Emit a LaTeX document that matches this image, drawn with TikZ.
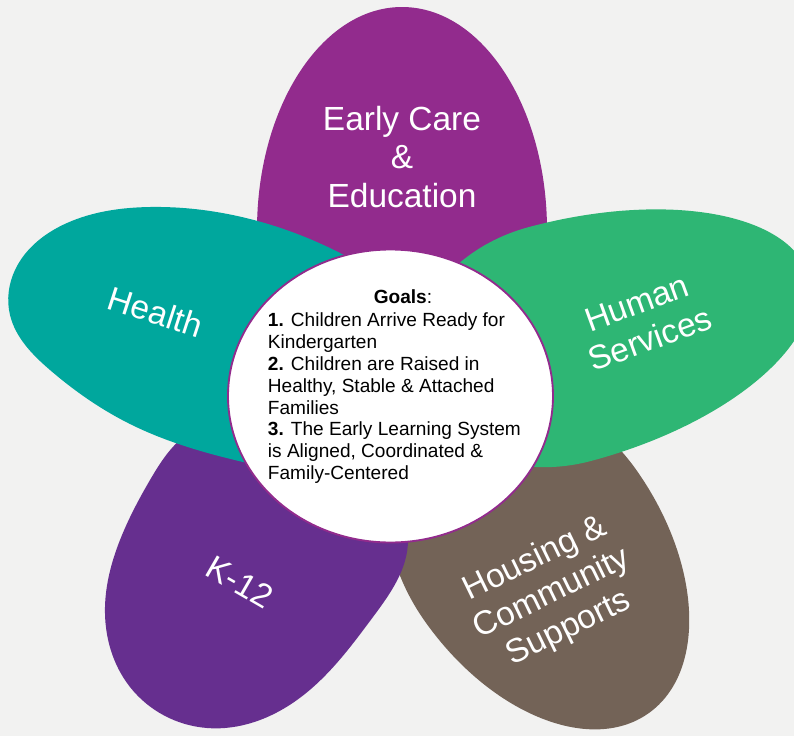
\documentclass[tikz,border=0pt]{standalone}
\usepackage{fontspec}
\setmainfont{Liberation Sans}
\usetikzlibrary{hobby}
\definecolor{bgc}{HTML}{F2F2F1}
\definecolor{ecec}{HTML}{922B8D}
\definecolor{healthc}{HTML}{00A79D}
\definecolor{humanc}{HTML}{2EB674}
\definecolor{kc}{HTML}{662F8F}
\definecolor{housec}{HTML}{736357}
\begin{document}
\begin{tikzpicture}[x=0.75pt,y=-0.75pt,
  lbl/.style={text=white, font=\fontsize{25.1}{28.9}\selectfont, align=center, inner sep=0pt},
  goaltext/.style={font=\fontsize{14.3}{16.4}\selectfont, inner sep=0pt}]
\fill[bgc] (0,0) rectangle (794,736);
\useasboundingbox (0,0) rectangle (794,736);
\clip (0,0) rectangle (794,736);
% Housing & Community Supports petal (egg shape)
\begin{scope}[shift={(530.6,545.6)}, rotate=-55]
\fill[housec] (0,-130) arc[start angle=-90, end angle=90, x radius=205, y radius=130]
  arc[start angle=90, end angle=270, x radius=170, y radius=130] -- cycle;
\end{scope}
% K-12 petal
\fill[kc] plot[closed hobby] coordinates {(190,432) (270,420) (370,468) (408,540) (373,617) (297,700) (207,728) (130,687) (105,607) (120,540) (150,480)};
% Early Care & Education petal
\fill[ecec] (402,230) ellipse [x radius=145, y radius=223];
% Health petal
\fill[healthc] plot[closed hobby] coordinates {(340,253) (250,219) (150,207) (67,223) (15,270) (10,315) (50,370) (130,424) (243,462) (330,468) (410,400) (400,300)};
% Human Services petal (egg shape)
\begin{scope}[shift={(560,344)}, rotate=15]
\fill[humanc] (0,-121) arc[start angle=-90, end angle=90, x radius=258, y radius=121]
  arc[start angle=90, end angle=270, x radius=150, y radius=121] -- cycle;
\end{scope}
% centre
\draw[ecec, line width=1.4pt, fill=white] (390.5,396) ellipse [x radius=162.5, y radius=146.5];
\node[goaltext, anchor=base] (goalsT) at (403,303) {\textbf{Goals}:};
\node[goaltext, anchor=north west, align=left] (goalsL) at (267.7,312.5) {\textbf{1.} Children Arrive Ready for\\Kindergarten\\\textbf{2.} Children are Raised in\\Healthy, Stable \& Attached\\Families\\\textbf{3.} The Early Learning System\\is Aligned, Coordinated \&\\Family-Centered};
% petal labels
\node[lbl] (ece) at (402,157) {Early Care\\\&\\Education};
\node[lbl, rotate=-18] (health) at (155.5,312) {Health};
\node[lbl, rotate=20] (human) at (643.5,321) {Human\\Services};
\node[lbl, rotate=-30] (k12) at (240,582) {K-12};
\node[lbl, rotate=26] (house) at (552,594) {Housing \&\\Community\\Supports};
\end{tikzpicture}
\end{document}
